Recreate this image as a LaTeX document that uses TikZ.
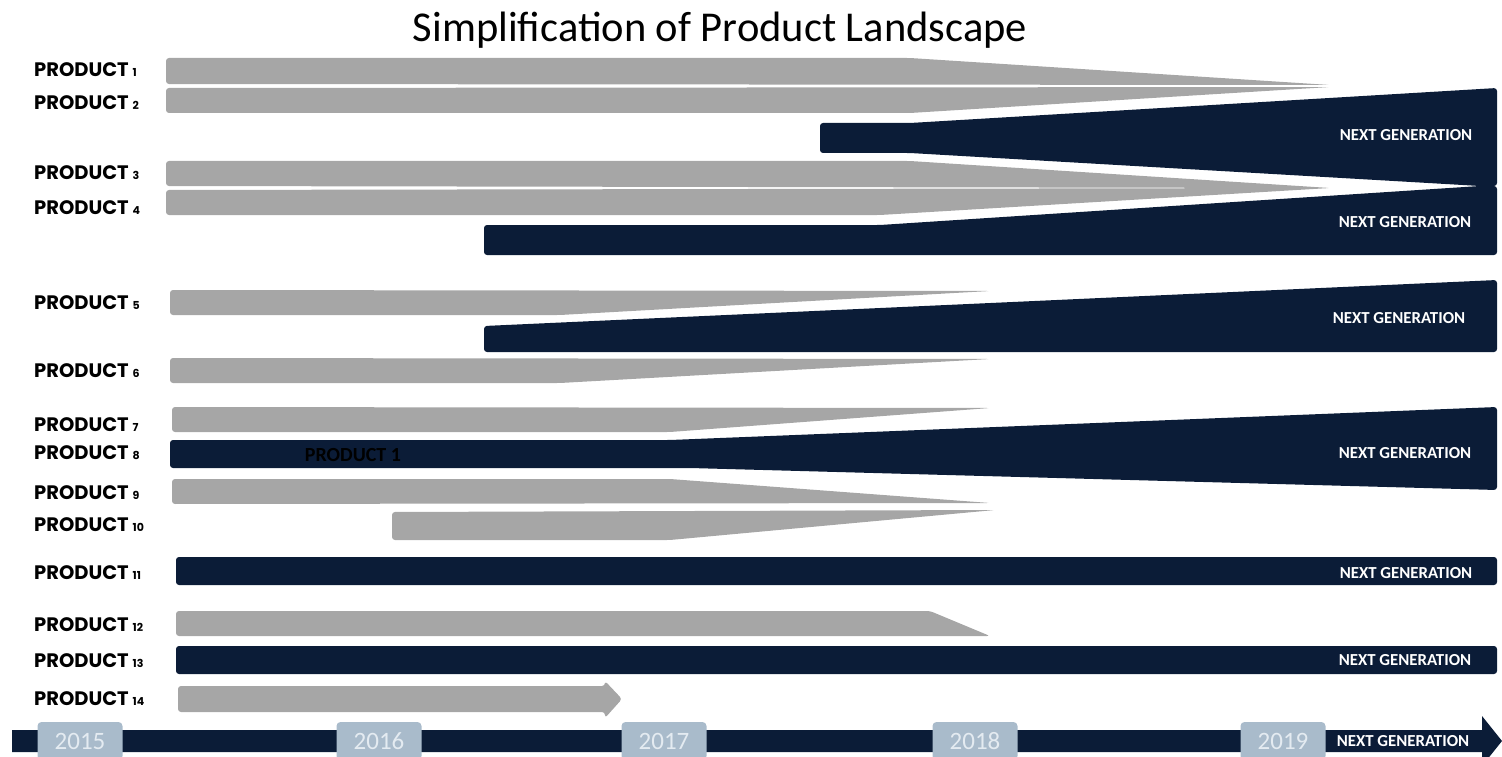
\documentclass[tikz,border=0pt]{standalone}
\usepackage{fontspec}
\setmainfont{Carlito}
\newfontfamily\pfont{Poppins}
\definecolor{bargray}{HTML}{A6A6A6}
\definecolor{navy}{HTML}{0B1C37}
\definecolor{yearfill}{HTML}{A9BBCB}
\definecolor{yeartext}{HTML}{E4EBF1}
\newcommand\prodlab[1]{PRODUCT\hspace{4pt}{\fontsize{11}{11}\selectfont #1}}
\begin{document}
\begin{tikzpicture}[x=1pt,y=-1pt,
  gbar/.style={fill=bargray, rounded corners=3pt},
  nbar/.style={fill=navy, rounded corners=3pt},
  plabel/.style={anchor=base west, inner sep=0pt, font=\pfont\bfseries\fontsize{19.5}{20}\selectfont},
  ngtext/.style={text=white, inner sep=0pt, font=\bfseries\fontsize{16.8}{17}\selectfont},
  yearbox/.style={fill=yearfill, rounded corners=4pt, minimum width=85pt, minimum height=38pt, inner sep=0pt, text=yeartext, font=\fontsize{25}{25}\selectfont}]
\useasboundingbox (0,0) rectangle (1502,757);
\clip (0,0) rectangle (1502,757);

% title
\node[anchor=base, inner sep=0pt, font=\fontsize{42.5}{44}\selectfont] (title) at (720,42) {Simplification of Product Landscape};

% ---- group A
\fill[gbar] (166,58) -- (910,58) -- (1330,85) -- (166,84) -- cycle;
\fill[gbar] (166,88) -- (1330,87) -- (910,113) -- (166,113) -- cycle;
\fill[nbar] (820,123) -- (910,123) -- (1497,88) -- (1497,186) -- (1480,186) -- (910,153) -- (820,153) -- cycle;
\fill[gbar] (166,161) -- (910,161) -- (1330,188) -- (166,186) -- cycle;
\fill[gbar] (166,190) -- (1330,188) -- (880,215) -- (166,215) -- cycle;
\fill[nbar] (484,225) -- (880,225) -- (1480,186) -- (1497,186) -- (1497,255) -- (484,255) -- cycle;

% ---- group B
\fill[gbar] (170,290) -- (990,291) -- (560,315) -- (170,315) -- cycle;
\fill[nbar] (484,326) -- (1497,280) -- (1497,352) -- (484,352) -- cycle;
\fill[gbar] (170,358) -- (990,359) -- (560,383) -- (170,383) -- cycle;

% ---- group C
\fill[gbar] (172,407) -- (990,408) -- (670,432) -- (172,432) -- cycle;
\fill[nbar] (170,440) -- (670,440) -- (1497,407) -- (1497,490) -- (690,468) -- (170,468) -- cycle;
\fill[gbar] (172,479) -- (670,479) -- (990,503) -- (172,504) -- cycle;
\fill[gbar] (392,512) -- (995,510) -- (670,540) -- (392,540) -- cycle;

% ---- group D
\fill[nbar] (176,557) rectangle (1497,585);
\fill[gbar] (176,611) -- (930,611) -- (990,636) -- (176,636) -- cycle;
\fill[nbar] (176,646) rectangle (1497,674);
\fill[gbar] (178,686) -- (605,686) -- (605,681) -- (622,699) -- (605,718) -- (605,712) -- (178,712) -- cycle;

% ---- time axis
\fill[navy] (12,730) -- (1482,730) -- (1482,716) -- (1502,741) -- (1482,766) -- (1482,752) -- (12,752) -- cycle;
\node[yearbox] (y2015) at (80,741) {2015};
\node[yearbox] (y2016) at (379,741) {2016};
\node[yearbox] (y2017) at (664,741) {2017};
\node[yearbox] (y2018) at (975,741) {2018};
\node[yearbox] (y2019) at (1283,741) {2019};

% ---- labels
\node[plabel] (p1) at (34,77) {\prodlab{1}};
\node[plabel] (p2) at (34,110) {\prodlab{2}};
\node[plabel] (p3) at (34,179) {\prodlab{3}};
\node[plabel] (p4) at (34,214) {\prodlab{4}};
\node[plabel] (p5) at (34,309) {\prodlab{5}};
\node[plabel] (p6) at (34,377) {\prodlab{6}};
\node[plabel] (p7) at (34,431) {\prodlab{7}};
\node[plabel] (p8) at (34,459) {\prodlab{8}};
\node[plabel] (p9) at (34,499) {\prodlab{9}};
\node[plabel] (p10) at (34,531) {\prodlab{10}};
\node[plabel] (p11) at (34,579) {\prodlab{11}};
\node[plabel] (p12) at (34,631) {\prodlab{12}};
\node[plabel] (p13) at (34,667) {\prodlab{13}};
\node[plabel] (p14) at (34,705) {\prodlab{14}};

% ---- next generation texts
\node[ngtext] (ng1) at (1406,135) {NEXT GENERATION};
\node[ngtext] (ng2) at (1405,222) {NEXT GENERATION};
\node[ngtext] (ng3) at (1399,318) {NEXT GENERATION};
\node[ngtext] (ng4) at (1405,453) {NEXT GENERATION};
\node[ngtext] (ng5) at (1406,573) {NEXT GENERATION};
\node[ngtext] (ng6) at (1405,660) {NEXT GENERATION};
\node[ngtext] (ng7) at (1403,741) {NEXT GENERATION};

\node[inner sep=0pt, text=black, font=\bfseries\fontsize{20}{20}\selectfont] (inner) at (353,455) {PRODUCT 1};
\end{tikzpicture}
\end{document}
